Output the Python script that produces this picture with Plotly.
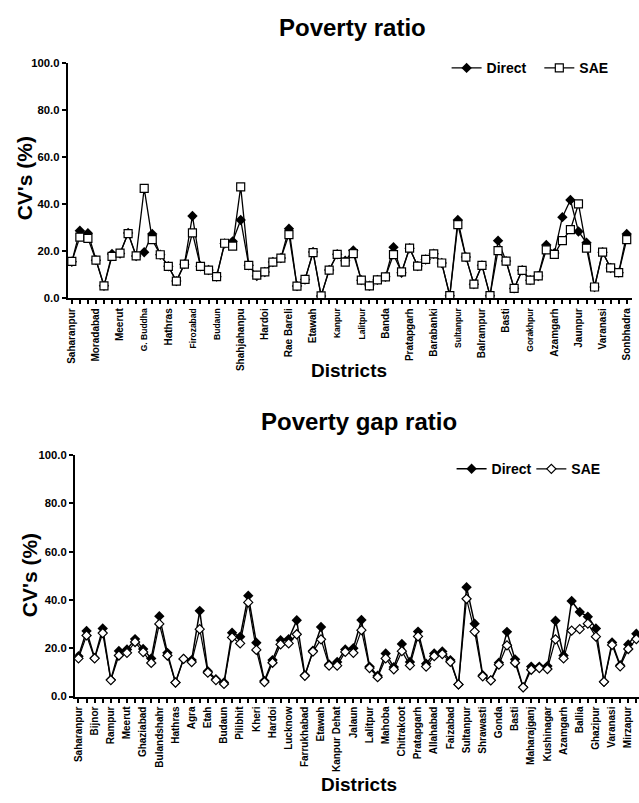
import plotly.graph_objects as go

districts = ["Saharanpur","Muzaffarnagar","Bijnor","Moradabad","Rampur","Jyotiba Phule Nagar","Meerut","Baghpat",
 "Ghaziabad","G. Buddha","Bulandshahr","Aligarh","Hathras","Mathura","Agra","Firozabad","Etah","Mainpuri",
 "Budaun","Bareilly","Pilibhit","Shahjahanpu","Kheri","Sitapur","Hardoi","Unnao","Lucknow","Rae Bareli",
 "Farrukhabad","Kannauj","Etawah","Auraiya","Kanpur Dehat","Kanpur","Jalaun","Jhansi","Lalitpur","Hamirpur",
 "Mahoba","Banda","Chitrakoot","Fatehpur","Pratapgarh","Kaushambi","Allahabad","Barabanki","Faizabad",
 "Ambedkar Nagar","Sultanpur","Bahraich","Shrawasti","Balrampur","Gonda","Siddharthnagar","Basti",
 "Sant Kabir Nagar","Maharajganj","Gorakhpur","Kushinagar","Deoria","Azamgarh","Mau","Ballia","Jaunpur",
 "Ghazipur","Chandauli","Varanasi","Sant Ravidas Nagar","Mirzapur","Sonbhadra"]

pr_direct = [15.5,28.7,27.7,16.2,5.3,18.8,19.0,27.8,18.0,19.6,27.3,18.5,13.6,7.3,14.5,35.0,13.6,12.0,9.2,23.3,
 24.2,33.3,14.0,9.5,11.2,15.4,17.1,29.6,5.2,8.0,19.7,1.0,12.0,18.7,16.0,20.3,7.7,5.3,7.8,9.1,
 21.7,10.8,21.3,13.7,16.5,18.9,15.0,1.1,33.3,17.5,6.0,14.0,1.1,24.5,15.8,4.2,11.9,7.7,9.5,22.7,
 19.2,34.5,41.8,28.4,23.6,4.8,19.6,12.9,10.9,27.3]
pr_sae = [15.7,26.0,25.5,16.2,5.3,17.8,19.2,27.5,18.0,46.7,24.9,18.5,13.6,7.3,14.5,27.8,13.6,12.0,9.2,23.4,
 22.2,47.4,14.0,9.8,11.2,15.4,17.1,27.1,5.2,8.0,19.4,1.0,12.0,18.7,15.4,19.0,7.7,5.3,7.8,9.1,
 18.6,11.2,21.3,13.7,16.5,18.9,15.0,1.1,31.3,17.5,6.0,14.0,1.1,20.3,15.8,4.2,11.9,7.7,9.5,20.6,
 18.7,24.5,29.2,40.1,21.3,4.8,19.6,12.9,10.9,24.9]

pgr_direct = [16.7,27.2,16.0,28.2,7.0,18.9,19.5,23.8,19.7,15.8,33.3,18.1,5.8,15.6,15.1,35.5,10.5,7.2,5.8,26.4,
 24.8,41.8,22.3,6.5,15.1,23.3,23.8,31.6,8.8,19.0,28.8,13.3,14.3,19.5,20.0,31.7,12.4,8.6,17.8,12.2,
 21.8,14.3,26.9,13.6,17.8,18.7,15.1,5.0,45.3,30.2,8.8,6.7,14.0,26.8,15.4,3.8,12.4,12.4,12.6,31.4,
 17.0,39.6,35.0,33.1,28.2,6.1,22.4,13.0,21.6,26.0]
pgr_sae = [15.8,25.3,15.8,26.3,6.8,17.0,18.1,22.6,18.4,13.9,30.1,17.0,5.8,15.6,14.3,27.9,9.9,6.8,5.2,24.5,
 22.0,39.0,19.3,6.0,14.0,21.6,22.0,25.8,8.6,18.6,23.7,12.8,12.8,18.5,18.1,27.5,11.8,8.0,15.8,11.3,
 18.8,12.9,24.9,12.4,16.7,17.6,14.4,5.0,40.5,26.9,8.4,6.7,13.2,21.2,14.0,3.8,11.1,11.8,11.4,23.7,
 15.8,27.3,27.9,30.2,24.8,6.1,21.4,12.5,19.7,23.8]

small_top = {"G. Buddha","Firozabad","Budaun","Kanpur","Lalitpur","Sultanpur","Gorakhpur"}
idx = list(range(len(districts)))
top_text = []
for i, d in enumerate(districts):
    if i % 3 == 0:
        top_text.append(f"<span style='font-size:8.5px'>{d}</span>" if d in small_top else d)
    else:
        top_text.append("")
bot_text = [d if i % 2 == 0 else "" for i, d in enumerate(districts)]

FONT = "Liberation Sans, Arial, sans-serif"
fig = go.Figure()

fig.add_trace(go.Scatter(x=idx, y=pr_direct, name="Direct", mode="lines+markers",
    line=dict(color="black", width=1.3), showlegend=True,
    marker=dict(symbol="diamond", size=8, color="black"), xaxis="x", yaxis="y", legend="legend"))
fig.add_trace(go.Scatter(x=idx, y=pr_sae, name="SAE", mode="lines+markers",
    line=dict(color="black", width=1.3), showlegend=True,
    marker=dict(symbol="square", size=8, color="white", line=dict(color="black", width=1.2)),
    xaxis="x", yaxis="y", legend="legend2"))
fig.add_trace(go.Scatter(x=idx, y=pgr_direct, name="Direct", mode="lines+markers",
    line=dict(color="black", width=1.5), showlegend=True,
    marker=dict(symbol="diamond", size=8, color="black"), xaxis="x2", yaxis="y2", legend="legend3"))
fig.add_trace(go.Scatter(x=idx, y=pgr_sae, name="SAE", mode="lines+markers",
    line=dict(color="black", width=1.2), showlegend=True,
    marker=dict(symbol="diamond", size=7, color="white", line=dict(color="black", width=1.2)),
    xaxis="x2", yaxis="y2", legend="legend4"))

axcommon = dict(showgrid=False, zeroline=False, showline=True, linecolor="black", linewidth=2,
                ticks="outside", tickcolor="black", ticklen=4, tickwidth=1.5)

def ann(text, x, y, size, angle=0):
    return dict(text=text, x=x/639, y=1-y/803, xref="paper", yref="paper", textangle=angle,
                xanchor="center", yanchor="middle", showarrow=False,
                font=dict(size=size, weight="bold"))

def leg(x, y):
    return dict(orientation="h", x=x/639, y=1-y/803, xanchor="left", yanchor="top",
                font=dict(size=14, weight="bold"), bgcolor="rgba(0,0,0,0)", itemwidth=30,
                visible=True)

fig.update_layout(
    width=639, height=803, margin=dict(l=0, r=0, t=0, b=0),
    paper_bgcolor="white", plot_bgcolor="white", showlegend=True,
    font=dict(family=FONT, color="black"),
    xaxis=dict(domain=[66/639, 632/639], range=[-0.5, 69.66], anchor="y",
               tickmode="array", tickvals=idx, ticktext=top_text, tickangle=-90,
               tickfont=dict(size=10, weight="bold"), **axcommon),
    yaxis=dict(domain=[1-296.7/803, 1-58/803], range=[0, 100], anchor="x",
               tickmode="array", tickvals=[0,20,40,60,80,100], tickformat=".1f",
               tickfont=dict(size=11.3, weight="bold"), **axcommon),
    xaxis2=dict(domain=[73.3/639, 1.0], range=[-0.42, 69.33], anchor="y2",
               tickmode="array", tickvals=idx, ticktext=bot_text, tickangle=-90,
               tickfont=dict(size=10, weight="bold"), **axcommon),
    yaxis2=dict(domain=[1-701/803, 1-456/803], range=[0, 100], anchor="x2",
               tickmode="array", tickvals=[0,20,40,60,80,100], tickformat=".1f",
               tickfont=dict(size=11.3, weight="bold"), **axcommon),
    legend=leg(446, 47),
    legend2=leg(539, 47),
    legend3=leg(451, 454),
    legend4=leg(531, 454),
    annotations=[
        ann("Poverty ratio", 352, 22, 24),
        ann("Poverty gap ratio", 358, 422, 24),
        ann("CV's (%)", 22, 175, 21, -90),
        ann("CV's (%)", 27, 578, 21, -90),
        ann("Districts", 348, 370, 19),
        ann("Districts", 358, 790, 19),
    ],
)

fig.write_html("out.html")
